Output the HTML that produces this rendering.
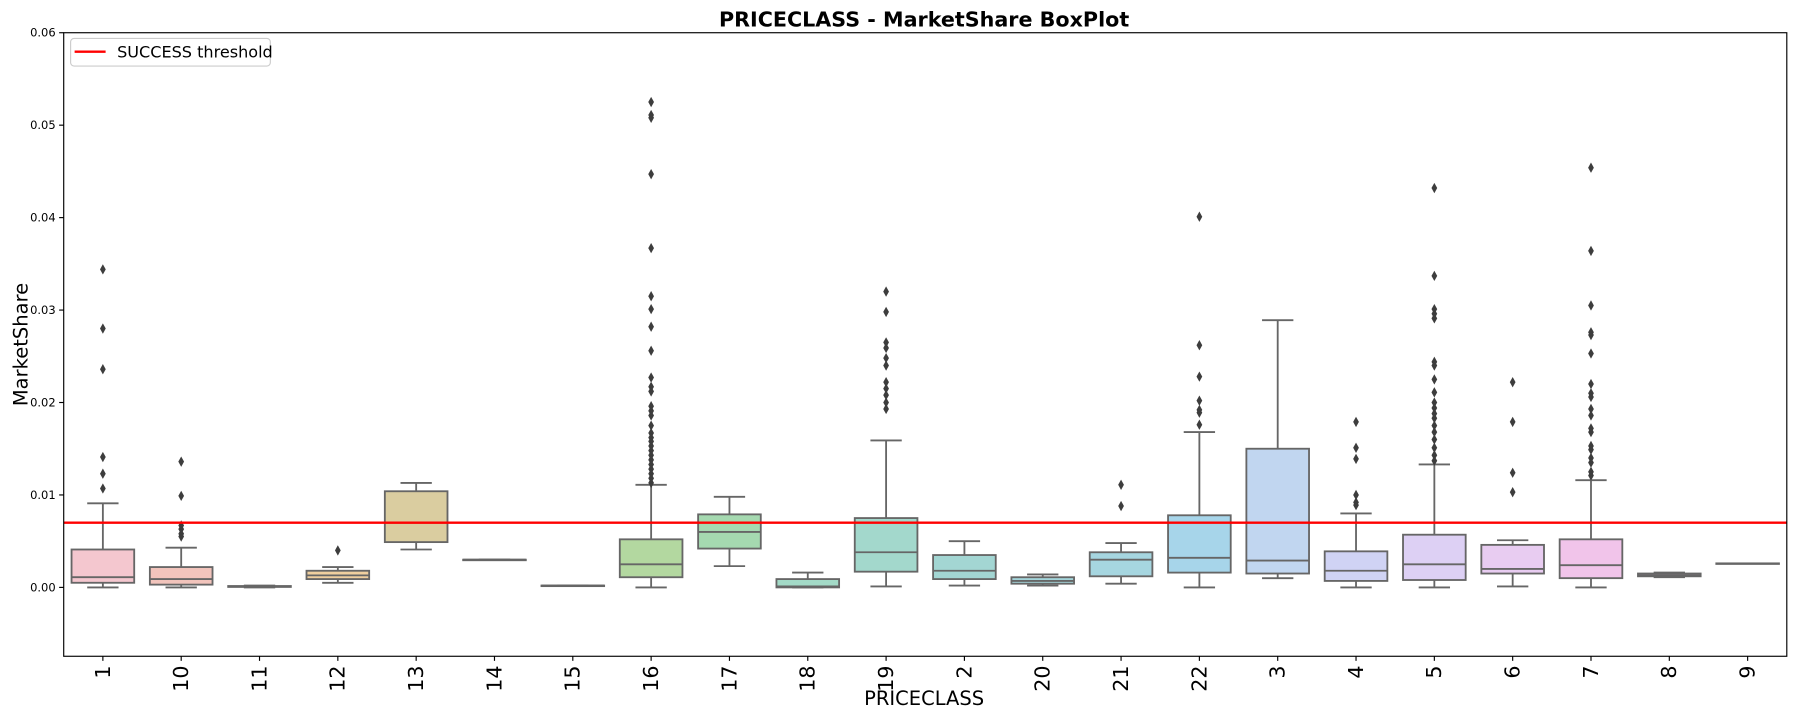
<!DOCTYPE html>
<html><head><meta charset="utf-8"><style>
html,body{margin:0;padding:0;background:#fff;}
svg{display:block;font-family:"DejaVu Sans","Liberation Sans",sans-serif;}
</style></head><body>
<svg id="chart" width="1800" height="720" viewBox="0 0 1568 627" preserveAspectRatio="none" xmlns="http://www.w3.org/2000/svg">
<text x="805" y="23" text-anchor="middle" font-size="18" font-weight="bold">PRICECLASS - MarketShare BoxPlot</text>
<text transform="translate(24,300) rotate(-90)" text-anchor="middle" font-size="17">MarketShare</text>
<text x="805" y="614" text-anchor="middle" font-size="17">PRICECLASS</text>
<g id="plot"></g>
<rect x="55.5" y="28.5" width="1501" height="543" fill="none" stroke="#000" stroke-width="1"/>
<g>
<rect x="61.5" y="33.5" width="174" height="24" rx="3" fill="#fff" fill-opacity="0.85" stroke="#ccc"/>
<line x1="65" y1="45" x2="92" y2="45" stroke="red" stroke-width="2"/>
<text x="102" y="50" font-size="14">SUCCESS threshold</text>
</g>
</svg>
<script>
const categories=["1","10","11","12","13","14","15","16","17","18","19","2","20","21","22","3","4","5","6","7","8","9"];
const whisLo=[0,0,0,0.0005,0.0041,0.0030,0.0002,0,0.0023,0,0.0001,0.0002,0.0002,0.0004,0,0.0010,0,0,0.0001,0,0.0011,0.0026];
const q1=[0.0005,0.0003,0.00005,0.0009,0.0049,0.0030,0.0002,0.0011,0.0042,0,0.0017,0.0009,0.0004,0.0012,0.0016,0.0015,0.0007,0.0008,0.0015,0.0010,0.0012,0.0026];
const medians=[0.0011,0.0009,0.0001,0.0013,0.0070,0.0030,0.0002,0.0025,0.0060,0.0001,0.0038,0.0018,0.0007,0.0030,0.0032,0.0029,0.0018,0.0025,0.0020,0.0024,0.0013,0.0026];
const q3=[0.0041,0.0022,0.00015,0.0018,0.0104,0.0030,0.0002,0.0052,0.0079,0.0009,0.0075,0.0035,0.0011,0.0038,0.0078,0.0150,0.0039,0.0057,0.0046,0.0052,0.0015,0.0026];
const whisHi=[0.0091,0.0043,0.0002,0.0022,0.0113,0.0030,0.0002,0.0111,0.0098,0.0016,0.0159,0.0050,0.0014,0.0048,0.0168,0.0289,0.0080,0.0133,0.0051,0.0116,0.0016,0.0026];
const outliers=[
[0.0344,0.0280,0.0236,0.0141,0.0123,0.0107],
[0.0136,0.0099,0.0067,0.0063,0.0058,0.0055],
[],[0.0040],[],[],[],
[0.0525,0.0511,0.0508,0.0447,0.0367,0.0315,0.0301,0.0282,0.0256,0.0227,0.0217,0.0212,0.0196,0.0191,0.0186,0.0175,0.0167,0.0162,0.0158,0.0153,0.0148,0.0143,0.0138,0.0133,0.0128,0.0123,0.0118,0.0113],
[],[],
[0.0320,0.0298,0.0265,0.0259,0.0248,0.0240,0.0222,0.0215,0.0208,0.0200,0.0193],
[],[],[0.0111,0.0088],
[0.0401,0.0262,0.0228,0.0202,0.0192,0.0189,0.0176],
[],
[0.0179,0.0151,0.0139,0.0100,0.0092,0.0089],
[0.0432,0.0337,0.0301,0.0296,0.0291,0.0244,0.0240,0.0225,0.0211,0.0200,0.0194,0.0188,0.0183,0.0175,0.0168,0.0160,0.0151,0.0143,0.0137],
[0.0222,0.0179,0.0124,0.0103],
[0.0454,0.0364,0.0305,0.0276,0.0273,0.0253,0.0220,0.0210,0.0206,0.0193,0.0186,0.0172,0.0168,0.0153,0.0149,0.0140,0.0135,0.0125,0.0121],
[],[]];
const colors=["#f4c7cf","#f2c4bc","#f1c8b4","#efcf9f","#dacda0","#d3d2a0","#c6d6a0","#b3d8a0","#a5d9b0","#a3dac7","#a3d8cc","#a3d6d3","#a4d4da","#a6d6e0","#a7d5ea","#c1d6f0","#d0d3f4","#ddd0f4","#e8ccf1","#f1c4ea","#f2c6dd","#f4c6d2"];
const yTicks=[0,0.01,0.02,0.03,0.04,0.05,0.06];
const yTickLabels=["0.00","0.01","0.02","0.03","0.04","0.05","0.06"];
const threshold=0.007;

const NS="http://www.w3.org/2000/svg";
const L=55.5,R=1556.5,T=28.5,B=571.5,ymin=-0.00745,ymax=0.06;
const step=(R-L)/categories.length;
function xs(i){return L+step*(i+0.5);}
function ys(v){return B-(v-ymin)/(ymax-ymin)*(B-T);}
const g=document.getElementById('plot');
function el(tag,attrs,parent){const e=document.createElementNS(NS,tag);for(const k in attrs)e.setAttribute(k,attrs[k]);(parent||g).appendChild(e);return e;}

yTicks.forEach((v,i)=>{
  const y=ys(v);
  const tk=el('line',{x1:L-4,x2:L,y1:y,y2:y,stroke:'#000'});
  
  
  const t=el('text',{x:L-7,y:y+3.5,'text-anchor':'end','font-size':'10'});
  
  
  t.textContent=yTickLabels[i];
});
const bw=step*0.8;
categories.forEach((c,i)=>{
  const x=xs(i);
  const grp=el('g',{});
  
  
  const st='#666';
  el('line',{x1:x,x2:x,y1:ys(q3[i]),y2:ys(whisHi[i]),stroke:st,'stroke-width':1.6},grp);
  el('line',{x1:x,x2:x,y1:ys(q1[i]),y2:ys(whisLo[i]),stroke:st,'stroke-width':1.6},grp);
  el('line',{x1:x-bw/4,x2:x+bw/4,y1:ys(whisHi[i]),y2:ys(whisHi[i]),stroke:st,'stroke-width':1.6},grp);
  el('line',{x1:x-bw/4,x2:x+bw/4,y1:ys(whisLo[i]),y2:ys(whisLo[i]),stroke:st,'stroke-width':1.6},grp);
  el('rect',{x:x-bw/2,y:ys(q3[i]),width:bw,height:Math.max(0.5,ys(q1[i])-ys(q3[i])),fill:colors[i],stroke:st,'stroke-width':1.6},grp);
  el('line',{x1:x-bw/2,x2:x+bw/2,y1:ys(medians[i]),y2:ys(medians[i]),stroke:st,'stroke-width':1.6},grp);
  outliers[i].forEach(v=>{
    const y=ys(v);
    const d=el('path',{d:`M${x},${y-4.5}L${x+2.5},${y}L${x},${y+4.5}L${x-2.5},${y}Z`,fill:'#3d3d3d'},grp);
    
    
  });
  const tk=el('line',{x1:x,x2:x,y1:B,y2:B+4,stroke:'#000'});
  
  
  const t=el('text',{transform:`translate(${x+6},${B+8}) rotate(-90)`,'text-anchor':'end','font-size':'18'});
  
  
  t.textContent=c;
});
const th=el('line',{x1:L,x2:R,y1:ys(threshold),y2:ys(threshold),stroke:'red','stroke-width':2});


</script>
</body></html>
